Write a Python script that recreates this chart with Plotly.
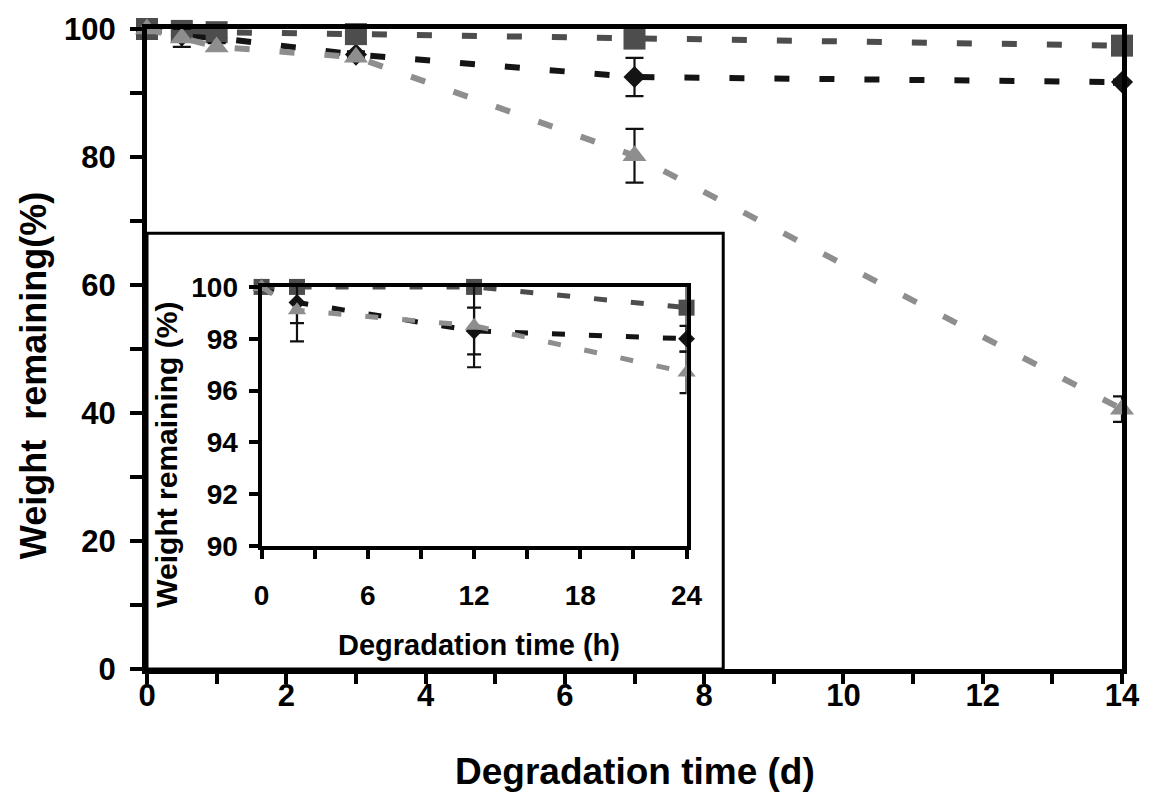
import plotly.graph_objects as go

# ---- main chart data (days) ----
days = [0, 0.5, 1, 3, 7, 14]
diamond_main = [100, 99.0, 98.6, 96.0, 92.5, 91.7]
diamond_main_err = [0, 0.6, 0.5, 0.5, 3.0, 0.4]
square_main = [100, 99.7, 99.5, 99.2, 98.5, 97.4]
square_main_err = [0, 0.3, 0.3, 0.3, 0.4, 0.4]
triangle_main = [100, 98.6, 97.2, 95.6, 80.2, 40.6]
triangle_main_err = [0, 1.4, 0.6, 0.5, 4.2, 2.0]

# ---- inset data (hours) ----
hours = [0, 2, 12, 24]
diamond_in = [100, 99.4, 98.3, 98.0]
diamond_in_err = [0, 0.8, 0.9, 0.5]
square_in = [100, 100, 100, 99.2]
square_in_err = [0, 0.2, 0.2, 1.2]
triangle_in = [100, 99.1, 98.5, 96.7]
triangle_in_err = [0, 1.2, 1.6, 0.8]

main_xticks = [0, 2, 4, 6, 8, 10, 12, 14]
main_yticks = [0, 20, 40, 60, 80, 100]
inset_xticks = [0, 6, 12, 18, 24]
inset_yticks = [90, 92, 94, 96, 98, 100]

C_DIA = "#141414"
C_SQ = "#4d4d4d"
C_TRI = "#8e8e8e"
FONT = "Liberation Sans, Arial, sans-serif"

fig = go.Figure()

def add_series(x, y, err, color, symbol, size, lw, dash, capw, xa, ya):
    fig.add_trace(go.Scatter(
        x=x, y=y, mode="lines+markers", xaxis=xa, yaxis=ya,
        line=dict(color=color, width=lw, dash=dash),
        marker=dict(symbol=symbol, size=size, color=color, line=dict(width=0)),
        error_y=dict(type="data", array=err, visible=True, color="#111111",
                     thickness=2.2, width=capw),
        cliponaxis=False, showlegend=False))

# main
add_series(days, diamond_main, diamond_main_err, C_DIA, "diamond", 17, 6, "15px,30px", 9, "x", "y")
add_series(days, square_main, square_main_err, C_SQ, "square", 22, 6, "15px,30px", 9, "x", "y")
add_series(days, triangle_main, triangle_main_err, C_TRI, "triangle-up", 21, 6, "15px,30px", 9, "x", "y")
# inset
add_series(hours, diamond_in, diamond_in_err, C_DIA, "diamond", 13, 5, "13px,24px", 7, "x2", "y2")
add_series(hours, square_in, square_in_err, C_SQ, "square", 16, 5, "13px,24px", 7, "x2", "y2")
add_series(hours, triangle_in, triangle_in_err, C_TRI, "triangle-up", 16, 5, "13px,24px", 7, "x2", "y2")

bold = dict(family=FONT, color="black", weight="bold")

fig.update_layout(
    width=1152, height=799,
    margin=dict(l=147, r=22, t=29, b=130),
    paper_bgcolor="white", plot_bgcolor="white",
    font=dict(family=FONT, color="black"),
    xaxis=dict(domain=[0, 1], range=[0, 14], tickvals=main_xticks,
               showgrid=False, zeroline=False, showline=True, linecolor="black",
               linewidth=5, mirror=True, ticks="outside", ticklen=10, tickwidth=4,
               tickcolor="black", tickfont=dict(size=31, **bold),
               minor=dict(ticks="outside", dtick=1, ticklen=10, tickwidth=4, tickcolor="black"),
               ticklabelstandoff=-15, anchor="y"),
    yaxis=dict(domain=[0, 1], range=[0, 100], tickvals=main_yticks,
               showgrid=False, zeroline=False, showline=True, linecolor="black",
               linewidth=5, mirror=True, ticks="outside", ticklen=12, tickwidth=4,
               tickcolor="black", tickfont=dict(size=31, **bold),
               minor=dict(ticks="outside", dtick=10, ticklen=12, tickwidth=4, tickcolor="black"),
               ticklabelstandoff=8, anchor="x"),
    xaxis2=dict(domain=[0.1175, 0.5534], range=[0, 24], tickvals=inset_xticks,
                showgrid=False, zeroline=False, showline=True, linecolor="black",
                linewidth=4, mirror=True, ticks="outside", ticklen=9, tickwidth=4,
                tickcolor="black", tickfont=dict(size=28, **bold),
                minor=dict(ticks="outside", dtick=3, ticklen=9, tickwidth=4, tickcolor="black"),
                ticklabelstandoff=12, anchor="y2"),
    yaxis2=dict(domain=[0.192, 0.597], range=[90, 100], tickvals=inset_yticks,
                showgrid=False, zeroline=False, showline=True, linecolor="black",
                linewidth=4, mirror=True, ticks="outside", ticklen=9, tickwidth=4,
                tickcolor="black", tickfont=dict(size=28, **bold),
                ticklabelstandoff=5, anchor="x2"),
    shapes=[dict(type="rect", xref="paper", yref="paper", x0=0, x1=0.591, y0=0, y1=0.681,
                 line=dict(color="black", width=3), layer="above")],
    annotations=[
        dict(text="Degradation time (d)", xref="paper", yref="paper", x=0.5, y=-0.16,
             xanchor="center", yanchor="middle", showarrow=False, font=dict(size=37, **bold)),
        dict(text="Weight  remaining(%)", xref="paper", yref="paper", x=-0.117, y=0.459,
             xanchor="center", yanchor="middle", textangle=-90, showarrow=False,
             font=dict(size=36, **bold)),
        dict(text="Degradation time (h)", xref="paper", yref="paper", x=0.341, y=0.0375,
             xanchor="center", yanchor="middle", showarrow=False, font=dict(size=29, **bold)),
        dict(text="Weight remaining (%)", xref="paper", yref="paper", x=0.02, y=0.334,
             xanchor="center", yanchor="middle", textangle=-90, showarrow=False,
             font=dict(size=30, **bold)),
    ],
)

fig.write_html("out.html")
